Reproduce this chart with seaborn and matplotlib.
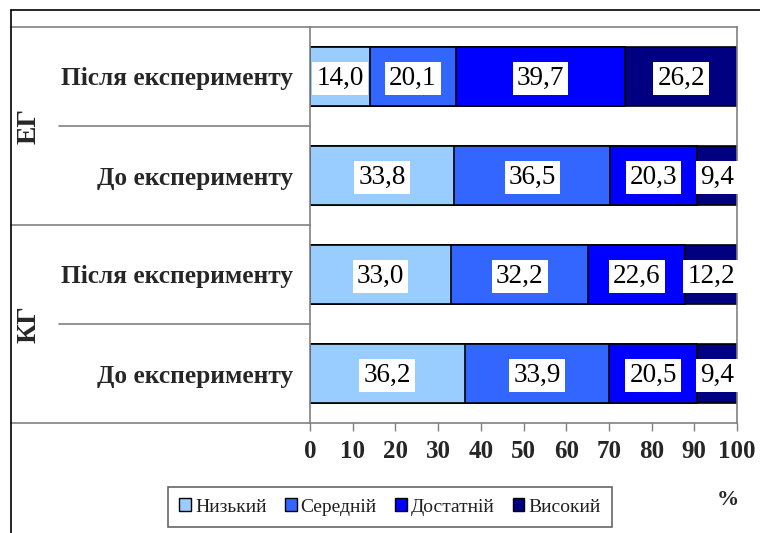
import pandas as pd
import seaborn as sns
import matplotlib.pyplot as plt
from matplotlib.patches import Patch

# data
groups = ['ЕГ', 'ЕГ', 'КГ', 'КГ']
stages = ['Після експерименту', 'До експерименту', 'Після експерименту', 'До експерименту']
levels = ['Низький', 'Середній', 'Достатній', 'Високий']
nyzkyi = [14.0, 33.8, 33.0, 36.2]
serednii = [20.1, 36.5, 32.2, 33.9]
dostatnii = [39.7, 20.3, 22.6, 20.5]
vysokyi = [26.2, 9.4, 12.2, 9.4]
colors = ['#99CCFF', '#3366FF', '#0000FF', '#000080']

sns.set_style('white')
plt.rcParams['font.family'] = ['Liberation Serif', 'DejaVu Serif']

rows = [f'{g}|{s}' for g, s in zip(groups, stages)]
df = pd.DataFrame({'row': rows, 'Низький': nyzkyi, 'Середній': serednii,
                   'Достатній': dostatnii, 'Високий': vysokyi})
cum = df[levels].cumsum(axis=1)

fig = plt.figure(figsize=(7.6, 5.33), dpi=100)
ax = fig.add_axes([310 / 760, 1 - 423 / 533, 427 / 760, 396 / 533])

# stacked bars: draw cumulative totals from the back
for lev, col in reversed(list(zip(levels, colors))):
    sns.barplot(x=cum[lev], y=df['row'], orient='h', color=col, width=0.6,
                edgecolor='black', linewidth=1.2, ax=ax, saturation=1)

# value labels
for i in range(len(df)):
    left = 0
    for lev in levels:
        v = df.loc[i, lev]
        ax.text(left + v / 2, i + 0.02, f'{v:.1f}'.replace('.', ','), ha='center', va='center',
                fontsize=19.5, color='black',
                bbox=dict(boxstyle='square,pad=0.15', fc='white', ec='none'))
        left += v

ax.set_xlim(0, 100)
ax.set_ylim(3.5, -0.5)
ax.set_xticks(range(0, 101, 10))
ax.set_xticklabels([str(t) for t in range(0, 101, 10)], fontsize=18, fontweight='bold')
ax.set_yticks(range(4))
ax.set_yticklabels(stages, fontsize=18.3, fontweight='bold')
ax.tick_params(axis='y', length=0, pad=12)
ax.tick_params(axis='x', length=6, width=1, color='#808080', direction='out', pad=6, bottom=True)
ax.set_xlabel('')
ax.set_ylabel('')
for sp in ax.spines.values():
    sp.set_color('#808080')
    sp.set_linewidth(1.2)

# group separators and group labels
trans = ax.get_yaxis_transform()
sep_col = '#808080'
ax.plot([-251 / 427, 0], [0.5, 0.5], transform=trans, color=sep_col, lw=1.2, clip_on=False)
ax.plot([-251 / 427, 0], [2.5, 2.5], transform=trans, color=sep_col, lw=1.2, clip_on=False)
ax.plot([-299 / 427, 0], [1.5, 1.5], transform=trans, color=sep_col, lw=1.2, clip_on=False)
ax.plot([-299 / 427, 0], [3.5, 3.5], transform=trans, color=sep_col, lw=1.2, clip_on=False)
ax.plot([-299 / 427, 0], [-0.5, -0.5], transform=trans, color=sep_col, lw=1.2, clip_on=False)
for g, y in [('ЕГ', 0.5), ('КГ', 2.5)]:
    ax.text(-281 / 427, y, g, transform=trans, rotation=90, ha='center', va='center',
            fontsize=20, fontweight='bold')

# outer chart frame
fig.add_artist(plt.Line2D([11 / 760, 1], [1 - 10 / 533, 1 - 10 / 533], color='black', lw=1.2))
fig.add_artist(plt.Line2D([11 / 760, 11 / 760], [0, 1 - 10 / 533], color='black', lw=1.2))

fig.text(728 / 760, 1 - 500 / 533, '%', ha='center', va='center', fontsize=16, fontweight='bold')

handles = [Patch(facecolor=c, edgecolor='black', label=l) for c, l in zip(colors, levels)]
leg = fig.legend(handles=handles, loc='center', bbox_to_anchor=(390 / 760, 1 - 507 / 533),
                 ncol=4, frameon=True, fontsize=14, handlelength=0.6, handleheight=0.6,
                 handletextpad=0.2, columnspacing=0.95, fancybox=False, borderpad=0.6,
                 borderaxespad=0)
leg.get_frame().set_edgecolor('#404040')
leg.get_frame().set_linewidth(1.2)
for t in leg.get_texts():
    t.set_color('#202020')

fig.savefig('out.png', dpi=100)
